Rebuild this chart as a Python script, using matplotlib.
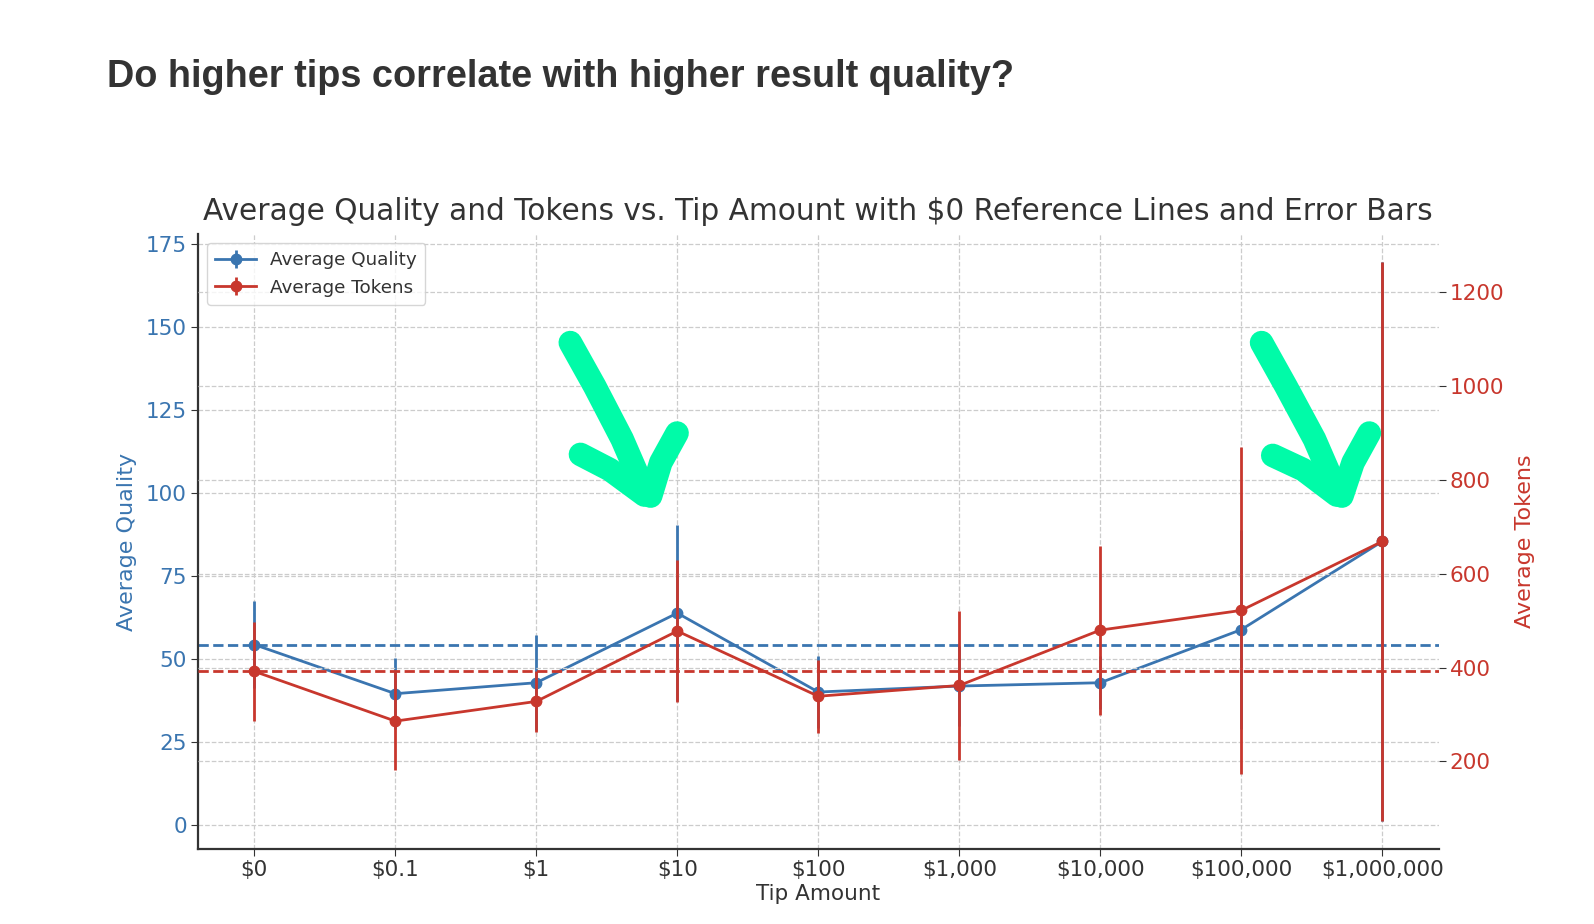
import matplotlib
matplotlib.use("Agg")
import matplotlib.pyplot as plt
from matplotlib.lines import Line2D

# ---------------- data ----------------
tip_labels = ["$0", "$0.1", "$1", "$10", "$100", "$1,000", "$10,000", "$100,000", "$1,000,000"]
avg_quality = [54.3, 39.5, 42.8, 63.8, 40.0, 41.8, 42.8, 58.8, 85.4]
quality_err = [13.2, 10.8, 14.3, 26.5, 10.8, 12.0, 8.0, 30.0, 84.3]
avg_tokens = [392, 286, 328, 478, 339, 362, 480, 522, 669]
tokens_err = [106, 105, 65, 152, 78, 158, 180, 348, 596]

BLUE = "#3a75b0"
RED = "#c8372d"
GREEN = "#00fba8"
DARK = "#333333"

fig = plt.figure(figsize=(15.94, 9.24), dpi=100)
ax1 = fig.add_axes([0.1242, 0.0812, 0.7783, 0.6656])
ax2 = ax1.twinx()

x = list(range(len(tip_labels)))

e1 = ax1.errorbar(x, avg_quality, yerr=quality_err, fmt="-o", color=BLUE,
                  ecolor=BLUE, elinewidth=2, lw=2, ms=7.5, capsize=0,
                  label="Average Quality")
ax1.axhline(avg_quality[0], color=BLUE, ls="--", lw=2)

e2 = ax2.errorbar(x, avg_tokens, yerr=tokens_err, fmt="-o", color=RED,
                  ecolor=RED, elinewidth=2, lw=2, ms=7.5, capsize=0,
                  label="Average Tokens")
ax2.axhline(avg_tokens[0], color=RED, ls="--", lw=2)

ax1.set_xticks(x)
ax1.set_xticklabels(tip_labels)
ax1.set_xlim(-0.4, 8.4)

for ax in (ax1, ax2):
    ax.grid(True, ls="--", color="#cccccc", lw=0.9)
    ax.set_axisbelow(True)
    for s in ("top", "right", "left", "bottom"):
        ax.spines[s].set_visible(False)
ax1.spines["left"].set_visible(True)
ax1.spines["bottom"].set_visible(True)
ax1.spines["left"].set_color(DARK)
ax1.spines["bottom"].set_color(DARK)
ax1.spines["left"].set_linewidth(1.6)
ax1.spines["bottom"].set_linewidth(1.6)

ax1.tick_params(axis="y", labelcolor=BLUE, labelsize=15.5, color=DARK, length=5, pad=3)
ax1.tick_params(axis="x", labelcolor=DARK, labelsize=15.5, color=DARK, length=5, pad=3)
ax2.tick_params(axis="y", labelcolor=RED, labelsize=15.5, color=DARK, length=5, pad=3)

ax1.set_xlabel("Tip Amount", fontsize=15.5, color=DARK, labelpad=3)
ax1.set_ylabel("Average Quality", fontsize=16, color=BLUE, labelpad=6)
ax2.set_ylabel("Average Tokens", fontsize=16, color=RED, labelpad=8)

ax1.set_title("Average Quality and Tokens vs. Tip Amount with $0 Reference Lines and Error Bars",
              fontsize=21.3, color=DARK, pad=10)

leg = ax2.legend(handles=[e1, e2], loc="upper left", fontsize=13.2,
                 frameon=True, borderpad=0.45, handlelength=2.2)
leg.get_frame().set_edgecolor("#cccccc")
for t in leg.get_texts():
    t.set_color(DARK)

fig.text(0.067, 0.917, "Do higher tips correlate with higher result quality?",
         fontsize=27.3, fontweight="bold", color="#333333",
         family=["Liberation Sans", "DejaVu Sans"], va="center", ha="left")

# hand-drawn green arrows (figure pixel coords, origin top-left)
W, H = 1594.0, 924.0
def stroke(pts):
    xs = [p[0] / W for p in pts]
    ys = [1 - p[1] / H for p in pts]
    fig.add_artist(Line2D(xs, ys, transform=fig.transFigure, color=GREEN,
                          lw=17, solid_capstyle="round", solid_joinstyle="round"))

s = 1594 / 1568
def arrow(shaft, lwing, rwing):
    stroke([(a * s, b * s) for a, b in shaft])
    stroke([(a * s, b * s) for a, b in lwing])
    stroke([(a * s, b * s) for a, b in rwing])

arrow([(561, 337), (585, 380), (612, 432), (635, 485)],
      [(571, 447), (600, 462), (634, 487)],
      [(666, 426), (650, 455), (640, 488)])
arrow([(1241, 337), (1265, 380), (1293, 432), (1316, 485)],
      [(1252, 448), (1282, 462), (1315, 487)],
      [(1347, 426), (1331, 455), (1320, 488)])

fig.savefig("out.png", dpi=100)
